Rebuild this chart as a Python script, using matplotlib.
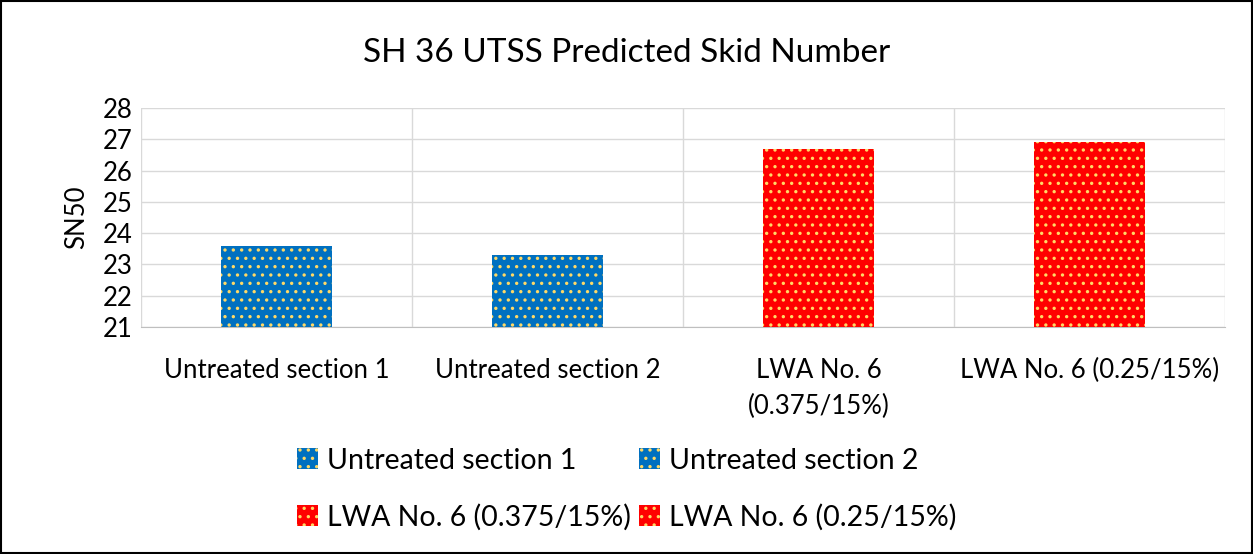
import matplotlib.pyplot as plt
import numpy as np

plt.rcParams['font.family'] = ['Lato', 'DejaVu Sans']
plt.rcParams['hatch.linewidth'] = 1.2

categories = ["Untreated section 1", "Untreated section 2",
              "LWA No. 6\n(0.375/15%)", "LWA No. 6 (0.25/15%)"]
legend_labels = ["Untreated section 1", "Untreated section 2",
                 "LWA No. 6 (0.375/15%)", "LWA No. 6 (0.25/15%)"]
sn50 = [23.6, 23.3, 26.7, 26.9]
colors = ["#0070C0", "#0070C0", "#FF0000", "#FF0000"]

fig = plt.figure(figsize=(12.53, 5.54), dpi=100)
ax = fig.add_axes([0.1125, 0.4097, 0.8655, 0.3953])

x = np.arange(len(categories))
bars = []
for i in range(len(categories)):
    b = ax.bar(x[i], sn50[i] - 21, bottom=21, width=0.41, color=colors[i],
               edgecolor="#FFD966", linewidth=0, hatch="..",
               label=legend_labels[i], zorder=3)
    bars.append(b)

ax.set_xlim(-0.5, 3.5)
ax.set_ylim(21, 28)
ax.set_yticks(range(21, 29))
ax.set_xticks(x)
ax.set_xticklabels(categories, fontsize=18.5, linespacing=1.55)
ax.tick_params(axis='y', labelsize=18.5, length=0, pad=6)
ax.tick_params(axis='x', length=0, pad=22)

# horizontal grid plus vertical separators between categories
ax.grid(axis='y', color="#D9D9D9", linewidth=1, zorder=0)
for xb in np.arange(-0.5, 4, 1.0):
    ax.axvline(xb, color="#D9D9D9", linewidth=1, zorder=0)
for s in ['top', 'right', 'left']:
    ax.spines[s].set_visible(False)
ax.spines['bottom'].set_color("#BFBFBF")

ax.set_ylabel("SN50", fontsize=18.5, labelpad=10)
fig.text(0.5, 0.905, "SH 36 UTSS Predicted Skid Number", ha='center',
         va='center', fontsize=24)

# row-wise legend order for a two-column layout
order = [0, 2, 1, 3]
fig.legend(handles=[bars[i][0] for i in order],
           labels=[legend_labels[i] for i in order], ncol=2,
           loc='center', bbox_to_anchor=(0.5, 0.117), frameon=False,
           fontsize=20.5, handlelength=0.75, handleheight=0.75,
           handletextpad=0.3, columnspacing=0.3, labelspacing=1.05)

# outer chart border
fig.patches.append(plt.Rectangle((0.001, 0.002), 0.998, 0.996,
                                 transform=fig.transFigure, fill=False,
                                 edgecolor="black", linewidth=1.5))

fig.savefig("out.png", dpi=100)
